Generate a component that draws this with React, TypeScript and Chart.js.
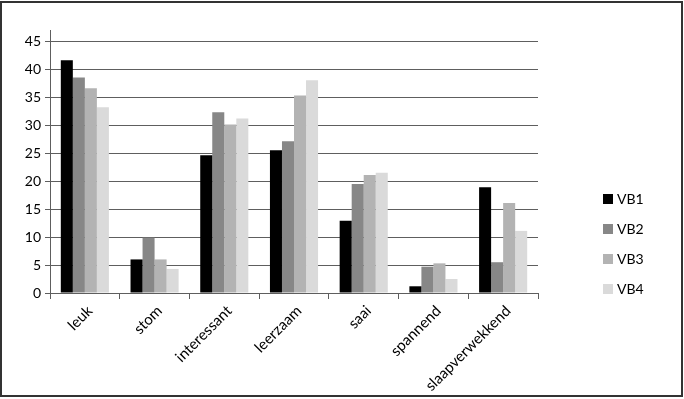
import React, { useEffect, useRef } from "react";
import { Chart, registerables } from "chart.js";

Chart.register(...registerables);

const categories = ["leuk", "stom", "interessant", "leerzaam", "saai", "spannend", "slaapverwekkend"];
const seriesNames = ["VB1", "VB2", "VB3", "VB4"];
const vb1 = [41.6, 6.0, 24.6, 25.5, 12.9, 1.2, 18.9];
const vb2 = [38.5, 9.9, 32.3, 27.1, 19.5, 4.7, 5.5];
const vb3 = [36.6, 6.0, 30.1, 35.3, 21.1, 5.3, 16.1];
const vb4 = [33.2, 4.3, 31.2, 38.0, 21.5, 2.5, 11.1];
const yTicks = [0, 5, 10, 15, 20, 25, 30, 35, 40, 45];
const seriesColors = ["#000000", "#878787", "#b3b3b3", "#dadada"];

const FONT = "Lato";

const customLegend = {
  id: "customLegend",
  afterDraw(chart: any) {
    const ctx = chart.ctx;
    ctx.save();
    const x0 = 603;
    const yStart = 199;
    const step = 30;
    chart.data.datasets.forEach((ds: any, i: number) => {
      const y = yStart + i * step;
      ctx.fillStyle = ds.backgroundColor;
      ctx.fillRect(x0, y - 5, 10, 10);
      ctx.fillStyle = "#000";
      ctx.font = `14px ${FONT}`;
      ctx.textBaseline = "middle";
      ctx.textAlign = "left";
      ctx.fillText(ds.label, x0 + 14, y + 0.5);
    });
    // outer frame
    ctx.strokeStyle = "#333";
    ctx.lineWidth = 2;
    ctx.strokeRect(1, 2, 681, 394);
    ctx.restore();
  },
};

export default function App() {
  const ref = useRef<HTMLCanvasElement | null>(null);
  useEffect(() => {
    document.body.style.margin = "0";
    const series = [vb1, vb2, vb3, vb4];
    const chart = new Chart(ref.current as HTMLCanvasElement, {
      type: "bar",
      data: {
        labels: categories,
        datasets: series.map((d, i) => ({
          label: seriesNames[i],
          data: d,
          backgroundColor: seriesColors[i],
          borderWidth: 0,
          barPercentage: 1,
          categoryPercentage: 0.69,
        })),
      },
      options: {
        animation: false,
        responsive: false,
        layout: { padding: { top: 30, right: 146, left: 0, bottom: 0 } },
        plugins: { legend: { display: false }, tooltip: { enabled: false } },
        scales: {
          x: {
            afterFit(scale: any) {
              scale.height = 106;
            },
            grid: {
              offset: true,
              drawOnChartArea: false,
              drawTicks: true,
              tickLength: 6,
              color: "#5e5e5e",
            },
            border: { color: "#5e5e5e", width: 1 },
            ticks: {
              minRotation: 45,
              maxRotation: 45,
              autoSkip: false,
              color: "#000",
              padding: 3,
              labelOffset: 5,
              font: { family: FONT, size: 15 },
            },
          },
          y: {
            min: 0,
            max: 47,
            afterFit(scale: any) {
              scale.width = 50;
            },
            afterBuildTicks(scale: any) {
              scale.ticks = yTicks.map((v) => ({ value: v }));
            },
            grid: { color: "#5e5e5e", tickLength: 5, lineWidth: 1 },
            border: { color: "#5e5e5e", width: 1 },
            ticks: {
              stepSize: 5,
              color: "#000",
              padding: 4,
              font: { family: FONT, size: 14 },
            },
          },
        },
      },
      plugins: [customLegend],
    });
    return () => chart.destroy();
  }, []);
  return (
    <div style={{ width: 684, height: 399 }}>
      <canvas ref={ref} width={684} height={399} style={{ display: "block", width: 684, height: 399 }} />
    </div>
  );
}
